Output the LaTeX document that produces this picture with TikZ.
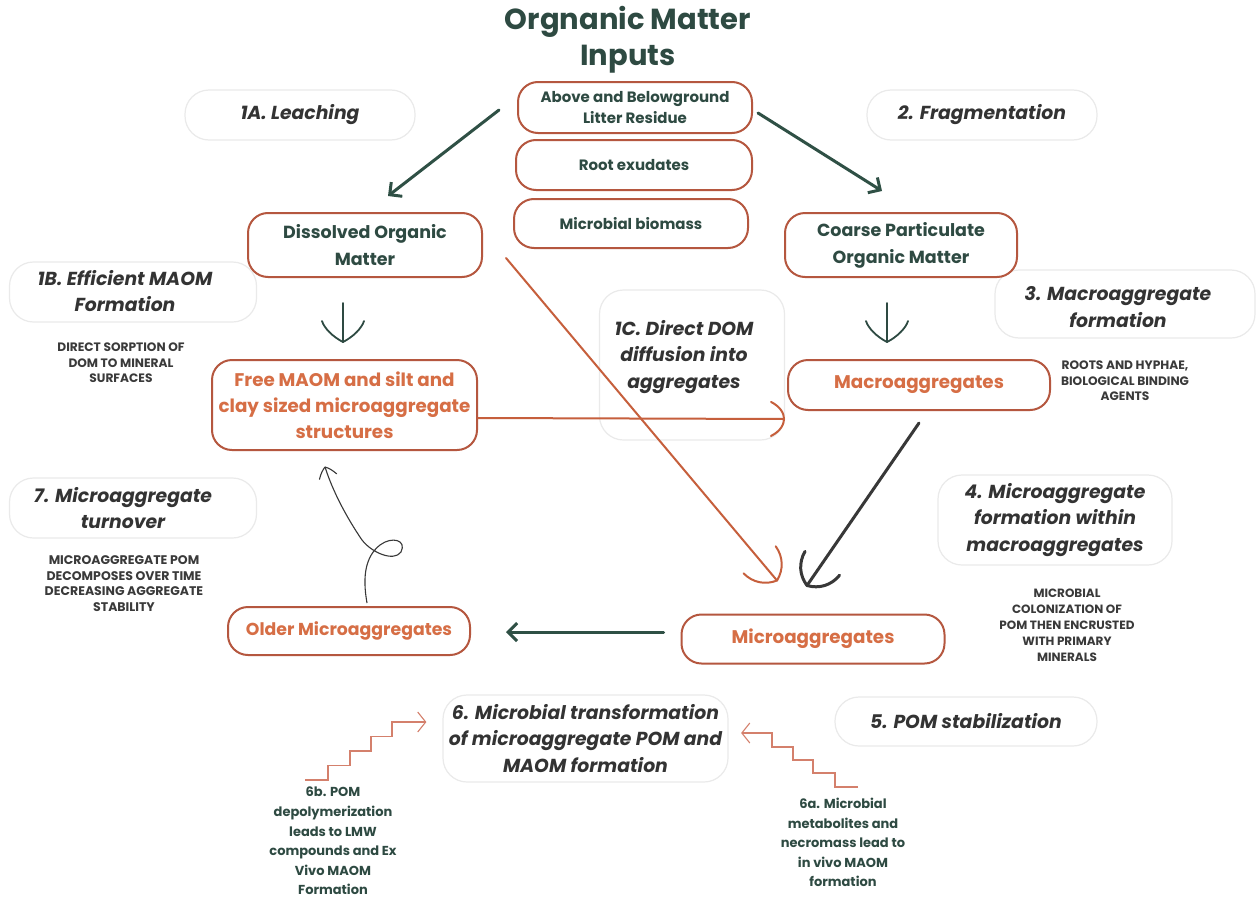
\documentclass[tikz,border=0pt]{standalone}
\usepackage{fontspec}
\setmainfont{Poppins}
\usetikzlibrary{arrows.meta}
\definecolor{dkgreen}{HTML}{2E4A42}
\definecolor{boxred}{HTML}{B5573F}
\definecolor{orangetx}{HTML}{D66E45}
\definecolor{orangeln}{HTML}{C65F3C}
\definecolor{labgray}{HTML}{EAEAEA}
\definecolor{labtext}{HTML}{333333}
\definecolor{smalltx}{HTML}{3A3A3A}
\definecolor{arrowgreen}{HTML}{2F5045}
\definecolor{arrowgray}{HTML}{383838}
\definecolor{stairc}{HTML}{D4806C}
\begin{document}
\begin{tikzpicture}[x=1pt,y=-1pt,
  box/.style={draw=boxred, line width=2pt, rounded corners=20pt, fill=white, align=center, text=dkgreen, font=\bfseries\fontsize{15}{21}\selectfont, inner sep=0pt},
  obox/.style={box, text=orangetx, font=\bfseries\fontsize{18.3}{26}\selectfont},
  lab/.style={draw=labgray, line width=1.2pt, rounded corners=24pt, fill=white, align=center, text=labtext, font=\bfseries\itshape\fontsize{18.8}{26.5}\selectfont, inner sep=0pt},
  captx/.style={align=center, text=smalltx, font=\bfseries\fontsize{12.2}{15.5}\selectfont, inner sep=0pt},
  notetx/.style={align=center, text=dkgreen, font=\bfseries\fontsize{13}{19.6}\selectfont, inner sep=0pt},
  garrow/.style={draw=arrowgreen, line width=3pt, line cap=round, -{Straight Barb[length=9pt,width=18pt,line width=3pt]}},
  vline/.style={draw=dkgreen, line width=1.8pt, line cap=round},
  oline/.style={draw=orangeln, line width=2pt, line cap=round},
  kline/.style={draw=arrowgray, line width=3pt, line cap=round},
  stair/.style={draw=stairc, line width=1.1pt, -{Straight Barb[length=8pt,width=20pt,line width=1.1pt]}},
  vbarb/.pic={\draw[line cap=round,line join=round] (-21,-21) .. controls (-14,-19) and (-5,-10) .. (0,0) .. controls (-5,10) and (-14,19) .. (-21,21);},
  cbarb/.pic={\draw[line cap=round,line join=round] (-27,-21) .. controls (-14,-20) and (-4,-12) .. (0,0) .. controls (-4,12) and (-14,20) .. (-27,21);},
  hbarb/.pic={\draw[line cap=round,line join=round] (-13,-17) .. controls (-3,-12) and (0,-5) .. (0,0) .. controls (0,5) and (-3,12) .. (-13,17);},
  sbarb/.pic={\draw[line cap=round,line join=round] (-10,-9) .. controls (-5,-6) and (-2,-3) .. (0,0) .. controls (-2,3) and (-5,6) .. (-10,9);}
]
\fill[white] (0,0) rectangle (1257,899);
\useasboundingbox (0,0) rectangle (1257,899);

% title
\node[align=center, text=dkgreen, font=\bfseries\fontsize{29}{36}\selectfont, inner sep=0pt] (title) at (628,40) {Orgnanic Matter\\Inputs};

% label boxes
\node[lab, minimum width=230pt, minimum height=50pt] (lA) at (300,115) {1A. Leaching};
\node[lab, minimum width=230pt, minimum height=50pt] (l2) at (982,115) {2. Fragmentation};
\node[lab, minimum width=247pt, minimum height=60pt] (lB) at (133,292) {};
\node[lab, draw=none, fill=none] (lBt) at (125,291) {1B. Efficient MAOM\\Formation};
\node[lab, minimum width=185pt, minimum height=150pt] (lC) at (692,365) {};
\node[lab, draw=none, fill=none] (lCt) at (684,357) {1C. Direct DOM\\diffusion into\\aggregates};
\node[lab, minimum width=260pt, minimum height=68pt] (l3) at (1125,304) {};
\node[lab, draw=none, fill=none] (l3t) at (1118,307) {3. Macroaggregate\\formation};
\node[lab, minimum width=234pt, minimum height=90pt] (l4) at (1055,520) {4. Microaggregate\\formation within\\macroaggregates};
\node[lab, minimum width=247pt, minimum height=60pt] (l7) at (133,508) {};
\node[lab, draw=none, fill=none] (l7t) at (123,508) {7. Microaggregate\\turnover};
\node[lab, minimum width=285pt, minimum height=87pt] (l6) at (585.5,738.5) {6. Microbial transformation\\of microaggregate POM and\\MAOM formation};
\node[lab, minimum width=262pt, minimum height=49pt] (l5) at (966,721.5) {5. POM stabilization};

% caption texts
\node[captx] (c1B) at (121,363) {DIRECT SORPTION OF\\DOM TO MINERAL\\SURFACES};
\node[captx] (c3) at (1125,381) {ROOTS AND HYPHAE,\\BIOLOGICAL BINDING\\AGENTS};
\node[captx, font=\bfseries\fontsize{12}{16}\selectfont] (c4) at (1067,625) {MICROBIAL\\COLONIZATION OF\\POM THEN ENCRUSTED\\WITH PRIMARY\\MINERALS};
\node[captx, font=\bfseries\fontsize{12.5}{15.8}\selectfont] (c7) at (124,583.5) {MICROAGGREGATE POM\\DECOMPOSES OVER TIME\\DECREASING AGGREGATE\\STABILITY};
\node[notetx] (t6b) at (333,841) {6b. POM\\depolymerization\\leads to LMW\\compounds and Ex\\Vivo MAOM\\Formation};
\node[notetx] (t6a) at (843,842.5) {6a. Microbial\\metabolites and\\necromass lead to\\in vivo MAOM\\formation};

% main boxes
\node[box, minimum width=234pt, minimum height=51pt] (lit) at (635,107.5) {Above and Belowground\\Litter Residue};
\node[box, minimum width=236pt, minimum height=50pt] (root) at (634,165) {Root exudates};
\node[box, minimum width=234pt, minimum height=49pt] (mic) at (631,223.5) {Microbial biomass};
\node[box, minimum width=234pt, minimum height=64pt, font=\bfseries\fontsize{17.5}{27}\selectfont] (dom) at (365,245) {Dissolved Organic\\Matter};
\node[box, minimum width=232pt, minimum height=64pt, font=\bfseries\fontsize{17.5}{27}\selectfont] (cpom) at (901,245) {Coarse Particulate\\Organic Matter};
\node[obox, minimum width=265pt, minimum height=90pt] (free) at (344.5,405) {Free MAOM and silt and\\clay sized microaggregate\\structures};
\node[obox, minimum width=262pt, minimum height=50pt] (macro) at (919,385) {Macroaggregates};
\node[obox, minimum width=263pt, minimum height=49pt] (micro) at (813,639) {Microaggregates};
\node[obox, minimum width=242pt, minimum height=48pt, font=\bfseries\fontsize{17.3}{26}\selectfont] (older) at (349,631) {Older Microaggregates};

% connectors
\draw[garrow] ([xshift=-18pt,yshift=-2.5pt]lit.west) -- ([xshift=23pt,yshift=16pt]dom.north);
\draw[garrow] ([xshift=5pt,yshift=-5.5pt]lit.east) -- ([xshift=-19pt,yshift=21pt]cpom.north);

\draw[vline] ([xshift=-22pt,yshift=-25pt]dom.south) -- ([xshift=-1.5pt,yshift=17pt]free.north)
  pic[pos=1, sloped, allow upside down, color=dkgreen, line width=1.8pt]{vbarb};
\draw[vline] ([xshift=-14pt,yshift=-25pt]cpom.south) -- ([xshift=-32pt,yshift=17pt]macro.north)
  pic[pos=1, sloped, allow upside down, color=dkgreen, line width=1.8pt]{vbarb};

\draw[oline] ([yshift=-13pt]free.east) -- ([xshift=-3pt,yshift=-8pt]macro.south west)
  pic[pos=1, sloped, allow upside down, color=orangeln, line width=2pt]{hbarb};

\draw[oline] ([xshift=23pt,yshift=-13pt]dom.east) -- ([xshift=-36pt,yshift=33pt]micro.north)
  pic[pos=1, sloped, allow upside down, color=orangeln, line width=2pt]{cbarb};

\draw[kline] ([yshift=-12pt]macro.south) -- ([xshift=-6pt,yshift=28pt]micro.north)
  pic[pos=1, sloped, allow upside down, color=arrowgray, line width=3pt]{cbarb};

\draw[garrow] ([xshift=-17pt,yshift=7pt]micro.west) -- ([xshift=35pt,yshift=-1pt]older.east);

\draw[draw=arrowgray, line width=1.1pt] ([xshift=18pt,yshift=3pt]older.north)
  .. controls (362,575) and (366,556) .. (380,545)
  .. controls (392,536) and (407,540) .. (401,552)
  .. controls (394,562) and (372,553) .. (362,540)
  .. controls (347,518) and (333,492) .. ([xshift=-19.5pt,yshift=-16pt]free.south)
  pic[pos=1, sloped, allow upside down, color=arrowgray, line width=1.1pt]{sbarb};

\coordinate (s6b) at (305,780);
\draw[stair] (s6b) -- ++(23,0) -- ++(0,-14.5) -- ++(22,0) -- ++(0,-14.5) -- ++(21,0) -- ++(0,-14.5) -- ++(21,0) -- ++(0,-14.5) -- ([xshift=-16pt,yshift=16.5pt]l6.west);
\coordinate (s6a) at (858,787);
\draw[stair] (s6a) -- ++(-23,0) -- ++(0,-14) -- ++(-22,0) -- ++(0,-13) -- ++(-20,0) -- ++(0,-13) -- ++(-21,0) -- ++(0,-14) -- ([xshift=12.5pt,yshift=5.5pt]l6.east);
\end{tikzpicture}
\end{document}
